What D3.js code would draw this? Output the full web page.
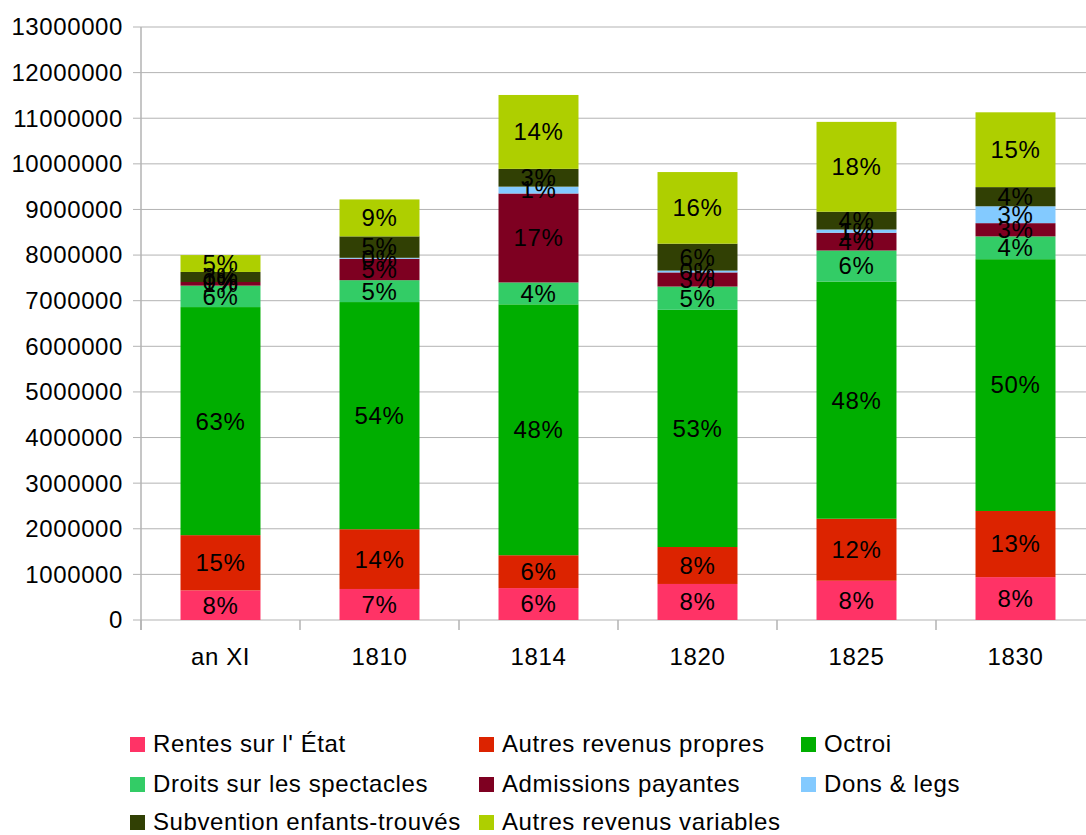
<!DOCTYPE html>
<html>
<head>
<meta charset="utf-8">
<title>Revenus</title>
<script src="https://cdn.jsdelivr.net/npm/d3@7"></script>
<style>
    body { margin: 0; background: #fff; }
    svg { display: block; font-family: "Liberation Sans", Arial, sans-serif; }
    svg text { letter-spacing: 0.6px; }
</style>
</head>
<body>
<svg id="chart"></svg>
<script>
// categories (years)
var years = ["an XI", "1810", "1814", "1820", "1825", "1830"];

// series, bottom to top
var seriesNames = ["Rentes sur l' État", "Autres revenus propres", "Octroi",
    "Droits sur les spectacles", "Admissions payantes", "Dons & legs",
    "Subvention enfants-trouvés", "Autres revenus variables"];

var rentes      = [650000, 680000, 700000, 790000, 860000, 940000];
var autresProp  = [1210000, 1310000, 720000, 810000, 1360000, 1450000];
var octroi      = [5000000, 4980000, 5500000, 5200000, 5200000, 5520000];
var droits      = [470000, 480000, 480000, 510000, 680000, 500000];
var admissions  = [80000, 470000, 1950000, 310000, 390000, 290000];
var dons        = [0, 20000, 150000, 40000, 70000, 370000];
var subvention  = [220000, 470000, 390000, 590000, 390000, 420000];
var autresVar   = [370000, 810000, 1620000, 1570000, 1970000, 1640000];

var yTicks = [0, 1000000, 2000000, 3000000, 4000000, 5000000, 6000000,
    7000000, 8000000, 9000000, 10000000, 11000000, 12000000, 13000000];

var colors = ["#ff3366", "#dc2300", "#00ae00", "#33cc66", "#7e0021", "#83caff", "#314004", "#aecf00"];

var allSeries = [rentes, autresProp, octroi, droits, admissions, dons, subvention, autresVar];

var width = 1086, height = 835;
var plotLeft = 141, plotTop = 27, plotBottom = 620;
var step = 159;
var fs = 24;

var svg = d3.select("#chart").attr("width", width).attr("height", height);

// build rows for the stack
var rows = years.map(function(yr, i) {
    var r = { year: yr };
    seriesNames.forEach(function(s, k) { r[s] = allSeries[k][i]; });
    r.total = d3.sum(allSeries, function(a) { return a[i]; });
    return r;
});

var stack = d3.stack().keys(seriesNames)(rows);

var xCat = d3.scaleBand().domain(years).range([plotLeft, plotLeft + step * years.length]).padding(0);
var x = d3.scaleBand().domain(years).range([plotLeft, plotLeft + step * years.length])
    .paddingInner(0.497).paddingOuter(0.2485);
var y = d3.scaleLinear().domain([0, 13000000]).range([plotBottom, plotTop]);

// gridlines
svg.append("g").selectAll("line").data(yTicks).enter().append("line")
    .attr("x1", plotLeft - 8).attr("x2", width)
    .attr("y1", function(d) { return y(d); }).attr("y2", function(d) { return y(d); })
    .attr("stroke", "#b3b3b3").attr("stroke-width", 1);

// y labels
svg.append("g").selectAll("text").data(yTicks).enter().append("text")
    .attr("x", 123).attr("y", function(d) { return y(d); })
    .attr("dy", "0.35em").attr("text-anchor", "end")
    .attr("font-size", fs).attr("fill", "#000")
    .text(function(d) { return d; });

// y axis line
svg.append("line").attr("x1", plotLeft).attr("x2", plotLeft)
    .attr("y1", plotTop).attr("y2", plotBottom + 10)
    .attr("stroke", "#b3b3b3").attr("stroke-width", 1.5);

// category ticks
var bounds = years.map(function(c) { return xCat(c); }).concat([plotLeft + step * years.length]);
svg.append("g").selectAll("line").data(bounds).enter().append("line")
    .attr("x1", function(d) { return d; }).attr("x2", function(d) { return d; })
    .attr("y1", plotBottom).attr("y2", plotBottom + 10)
    .attr("stroke", "#b3b3b3").attr("stroke-width", 1.5);

// bars
var layers = svg.append("g").selectAll("g").data(stack).enter().append("g")
    .attr("fill", function(d, i) { return colors[i]; });

layers.selectAll("rect").data(function(d) { return d; }).enter().append("rect")
    .attr("x", function(d) { return x(d.data.year); })
    .attr("width", x.bandwidth())
    .attr("y", function(d) { return y(d[1]); })
    .attr("height", function(d) { return y(d[0]) - y(d[1]); });

// percent labels
var labels = svg.append("g");
stack.forEach(function(layer) {
    layer.forEach(function(d) {
        var v = d[1] - d[0];
        labels.append("text")
            .attr("x", x(d.data.year) + x.bandwidth() / 2)
            .attr("y", y((d[0] + d[1]) / 2))
            .attr("dy", "0.35em").attr("text-anchor", "middle")
            .attr("font-size", fs).attr("fill", "#000")
            .text(Math.round(v / d.data.total * 100) + "%");
    });
});

// x labels
svg.append("g").selectAll("text").data(years).enter().append("text")
    .attr("x", function(d) { return xCat(d) + step / 2; })
    .attr("y", 657).attr("dy", "0.35em").attr("text-anchor", "middle")
    .attr("font-size", fs).attr("fill", "#000")
    .text(function(d) { return d; });

// legend, 3 columns
var legX = [130, 479, 801];
var legY = [744, 784, 822];
var leg = svg.append("g").selectAll("g").data(seriesNames).enter().append("g")
    .attr("transform", function(d, i) {
        return "translate(" + legX[i % 3] + "," + legY[Math.floor(i / 3)] + ")";
    });
leg.append("rect").attr("x", 0).attr("y", -7).attr("width", 15).attr("height", 15)
    .attr("fill", function(d, i) { return colors[i]; });
leg.append("text").attr("x", 23).attr("dy", "0.35em")
    .attr("font-size", fs).attr("fill", "#000")
    .text(function(d) { return d; });
</script>
</body>
</html>
